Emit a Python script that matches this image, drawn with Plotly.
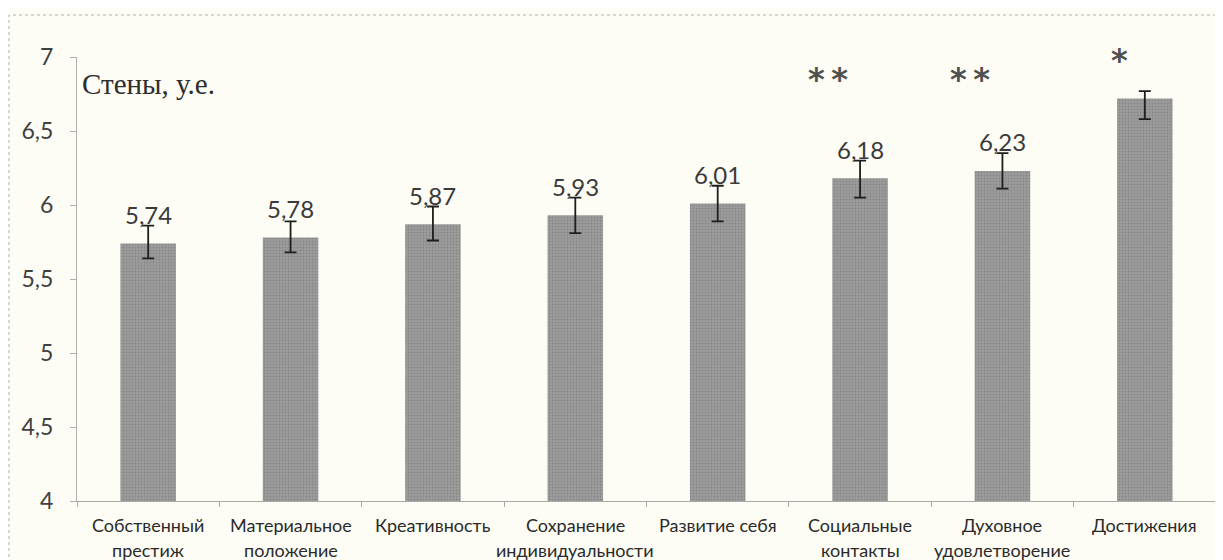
import plotly.graph_objects as go

categories = ["Собственный<br>престиж", "Материальное<br>положение", "Креативность",
              "Сохранение<br>индивидуальности", "Развитие себя", "Социальные<br>контакты",
              "Духовное<br>удовлетворение", "Достижения"]
values = [5.74, 5.78, 5.87, 5.93, 6.01, 6.18, 6.23, 6.72]
err_plus = [0.12, 0.11, 0.12, 0.12, 0.12, 0.12, 0.12, 0.05]
err_minus = [0.10, 0.10, 0.11, 0.12, 0.12, 0.13, 0.12, 0.14]
value_labels = ["5,74", "5,78", "5,87", "5,93", "6,01", "6,18", "6,23", ""]
stars = ["", "", "", "", "", "**", "**", "*"]
y_ticks = [4, 4.5, 5, 5.5, 6, 6.5, 7]
y_ticktext = ["4", "4,5", "5", "5,5", "6", "6,5", "7"]

BG = "#fdfdf6"
OFF = 8  # default page body margin
W, H = 1215, 552
L, R, T, B = 69, 7, 49, 59
PW, PH = W - L - R, H - T - B


def px_x(p):  # page pixel -> paper x
    return (p - OFF - L) / PW


def px_y(p):  # page pixel -> paper y
    return 1 - (p - OFF - T) / PH


fig = go.Figure()
fig.add_trace(go.Bar(
    x=list(range(len(categories))), y=values,
    marker=dict(color="#969696", line=dict(width=0),
                pattern=dict(shape=".", size=3, solidity=0.3, fgcolor="#6f6f6f", bgcolor="#9c9c9c")),
    error_y=dict(type="data", symmetric=False, array=err_plus, arrayminus=err_minus,
                 color="#1e1e1e", thickness=1.8, width=6),
    hoverinfo="skip",
))

ann = []
for i, (v, t) in enumerate(zip(values, value_labels)):
    if t:
        ann.append(dict(x=i, y=v, text=t, showarrow=False, yshift=29,
                        font=dict(family="Lato, Noto Sans", size=24, color="#3a3a3a")))
for i, s in enumerate(stars):
    if s:
        single = len(s) == 1
        ann.append(dict(x=i, xref="x", yref="paper", y=px_y(39) if single else px_y(58),
                        text="\u2009".join(s), showarrow=False, xshift=-25 if single else -32,
                        font=dict(family="DejaVu Sans", size=32, color="#505050", weight="bold")))
for i, c in enumerate(categories):
    lines = c.split("<br>")
    for j, ln in enumerate(lines):
        ann.append(dict(x=i, xref="x", yref="paper", y=px_y(525 + 25 * j), yanchor="middle",
                        text=ln, showarrow=False,
                        font=dict(family="Lato, Noto Sans", size=18, color="#2a2a2a")))
ann.append(dict(xref="paper", yref="paper", x=px_x(80), y=px_y(84), xanchor="left", yanchor="middle",
                text="Стены, у.е.", showarrow=False,
                font=dict(family="Liberation Serif", size=29, color="#2e2e2e")))

shapes = [dict(type="rect", xref="paper", yref="paper",
               x0=px_x(9), x1=px_x(1222), y0=px_y(620), y1=px_y(15),
               line=dict(color="#b0b0b0", width=1, dash="dot"), layer="below")]

fig.update_layout(
    width=W, height=H,
    margin=dict(l=L, r=R, t=T, b=B),
    paper_bgcolor=BG, plot_bgcolor=BG,
    bargap=0.61,
    showlegend=False,
    annotations=ann,
    shapes=shapes,
    xaxis=dict(range=[-0.5, len(categories) - 0.5], tickvals=[k - 0.5 for k in range(len(categories) + 1)],
               showticklabels=False, showline=True, linecolor="#a8a8a8", linewidth=1, ticks="outside",
               ticklen=5, tickcolor="#a8a8a8", showgrid=False, zeroline=False),
    yaxis=dict(range=[4, 7], tickvals=y_ticks, ticktext=y_ticktext, showline=True, linecolor="#b0b0b0",
               linewidth=1, ticks="outside", ticklen=6, tickcolor="#b0b0b0", showgrid=False,
               zeroline=False, ticklabelstandoff=12,
               tickfont=dict(family="Lato, Noto Sans", size=23, color="#404040")),
)

fig.write_html("out.html")
